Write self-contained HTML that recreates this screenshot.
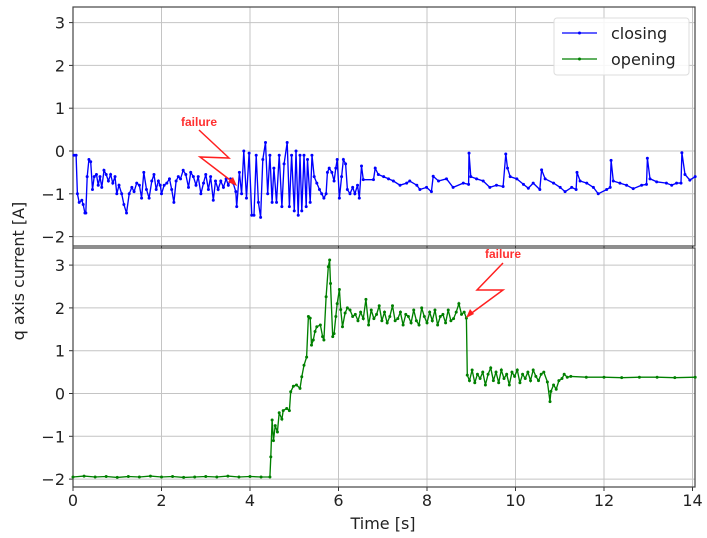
<!DOCTYPE html>
<html><head><meta charset="utf-8"><style>
body{margin:0;background:#fff;}
svg{display:block;font-family:"DejaVu Sans","Liberation Sans",sans-serif;}
</style></head><body>
<svg id="chart" width="707" height="538"></svg>
<script>
const closingT=[0.02,0.07,0.10,0.14,0.20,0.23,0.27,0.29,0.32,0.36,0.40,0.44,0.48,0.53,0.57,0.61,0.65,0.70,0.75,0.80,0.85,0.90,0.95,0.99,1.04,1.10,1.15,1.21,1.27,1.33,1.38,1.44,1.50,1.55,1.60,1.66,1.72,1.78,1.83,1.88,1.93,1.97,2.00,2.06,2.12,2.18,2.23,2.28,2.33,2.38,2.43,2.49,2.55,2.61,2.66,2.72,2.78,2.83,2.89,2.95,3.00,3.06,3.11,3.17,3.22,3.28,3.34,3.40,3.46,3.51,3.56,3.62,3.68,
3.70,3.76,3.81,3.86,3.92,3.98,4.04,4.09,4.14,4.19,4.24,4.29,4.35,4.40,4.45,4.50,4.54,4.60,4.66,4.72,4.77,4.84,4.89,4.94,5.00,5.04,5.09,5.13,5.17,5.22,5.27,5.30,5.36,5.40,5.45,5.51,5.57,5.62,5.67,5.72,5.75,5.79,5.85,5.90,5.94,5.97,6.02,6.07,6.11,6.16,6.20,6.26,6.32,6.37,6.43,6.47,6.52,6.56,6.79,6.83,6.90,7.02,7.13,7.24,7.39,7.54,7.61,7.77,7.84,7.99,8.10,8.14,8.26,8.44,8.59,
8.82,8.94,8.95,8.99,9.12,9.27,9.42,9.57,9.72,9.78,9.82,9.88,10.03,10.18,10.29,10.40,10.55,10.59,10.67,10.86,11.01,11.12,11.27,11.37,11.39,11.46,11.61,11.76,11.87,12.06,12.14,12.16,12.21,12.36,12.51,12.66,12.85,12.96,12.98,13.04,13.19,13.41,13.53,13.64,13.74,13.76,13.83,13.94,14.06];
const closingV=[-0.1,-0.1,-1.0,-1.2,-1.15,-1.25,-1.45,-1.45,-0.6,-0.2,-0.25,-0.9,-0.6,-0.55,-0.8,-0.6,-0.85,-0.45,-0.55,-0.7,-0.55,-0.75,-0.6,-1.0,-0.8,-1.0,-1.25,-1.45,-1.0,-0.85,-0.95,-0.75,-0.8,-1.1,-0.5,-0.9,-1.1,-0.7,-0.55,-0.9,-0.7,-0.8,-1.0,-0.8,-0.75,-0.65,-0.9,-1.2,-0.7,-0.6,-0.65,-0.45,-0.55,-0.85,-0.5,-0.6,-0.8,-0.6,-1.0,-0.75,-0.55,-0.9,-0.6,-1.15,-0.7,-0.9,-0.7,-0.85,-0.65,-0.8,-0.65,-0.75,-0.95,
-1.3,-0.5,-1.0,0.0,-1.1,-0.05,-1.5,-1.5,-0.1,-1.2,-1.55,-0.2,0.2,-1.0,-0.1,-1.2,-0.4,-1.2,-0.1,-1.3,-0.3,0.2,-1.3,-0.1,-1.4,0.0,-1.5,-0.1,-1.4,-0.1,-1.3,-0.2,-1.2,-0.1,-0.6,-0.75,-0.9,-1.0,-1.1,-1.0,-0.5,-0.4,-0.5,-0.7,-0.4,-0.2,-1.1,-0.6,-0.2,-0.3,-0.9,-1.0,-0.85,-1.0,-0.8,-1.1,-0.35,-0.67,-0.67,-0.4,-0.55,-0.6,-0.65,-0.7,-0.8,-0.75,-0.7,-0.8,-0.9,-0.85,-0.95,-0.59,-0.7,-0.65,-0.85,
-0.75,-0.78,-0.05,-0.6,-0.65,-0.7,-0.85,-0.8,-0.83,-0.07,-0.4,-0.6,-0.65,-0.78,-0.87,-0.75,-0.9,-0.44,-0.65,-0.75,-0.85,-0.95,-0.85,-0.9,-0.5,-0.7,-0.75,-0.85,-1.0,-0.9,-0.85,-0.22,-0.7,-0.75,-0.8,-0.88,-0.8,-0.78,-0.17,-0.65,-0.72,-0.75,-0.8,-0.75,-0.75,-0.04,-0.55,-0.68,-0.6];
const openingT=[0,0.25,0.5,0.75,1.0,1.25,1.5,1.75,2.0,2.25,2.5,2.75,3.0,3.25,3.5,3.75,4.0,4.25,4.45,
4.47,4.50,4.53,4.57,4.62,4.66,4.72,4.75,4.83,4.89,4.92,4.98,5.05,5.13,5.17,5.22,5.28,5.32,5.36,5.39,5.43,5.47,5.51,5.59,5.64,5.67,5.72,5.77,5.80,5.82,5.87,5.90,5.94,5.97,6.02,6.05,6.09,6.15,6.20,
6.26,6.32,6.38,6.44,6.50,6.56,6.62,6.68,6.74,6.80,6.86,6.92,6.98,7.04,7.10,7.16,7.22,7.28,7.34,7.40,7.46,7.52,7.58,7.64,7.70,7.76,7.82,7.88,7.94,8.00,8.06,8.12,8.18,8.24,8.30,8.36,8.42,8.48,8.54,8.60,8.66,8.72,8.78,8.84,8.89,
8.91,8.96,9.02,9.08,9.14,9.20,9.26,9.32,9.38,9.44,9.50,9.56,9.62,9.68,9.74,9.80,9.86,9.92,9.98,10.04,10.10,10.16,10.22,10.28,10.34,10.40,10.46,10.52,10.58,10.64,10.72,10.78,10.80,10.86,10.92,10.98,11.05,11.10,11.17,11.25,11.6,12.0,12.4,12.8,13.2,13.6,14.06];
const openingV=[-1.95,-1.93,-1.95,-1.94,-1.96,-1.94,-1.95,-1.93,-1.95,-1.94,-1.96,-1.95,-1.94,-1.95,-1.93,-1.95,-1.94,-1.95,-1.95,
-1.48,-0.62,-1.1,-0.75,-0.9,-0.45,-0.6,-0.4,-0.35,-0.4,0.04,0.17,0.2,0.12,0.39,0.66,0.85,1.8,1.76,1.13,1.25,1.45,1.56,1.6,1.33,1.25,2.26,2.96,3.12,2.57,1.33,1.4,1.8,2.1,2.43,1.96,1.56,1.88,2.0,
1.95,1.8,1.85,1.7,1.9,1.75,2.2,1.6,1.95,1.75,1.85,2.05,1.7,1.9,1.65,1.8,2.05,1.7,1.75,1.9,1.6,1.85,1.8,1.65,1.95,1.7,1.6,2.0,1.8,1.65,1.9,1.7,1.95,1.6,1.8,1.85,1.65,1.95,1.7,1.75,1.9,2.1,1.85,1.9,1.76,
0.43,0.3,0.55,0.25,0.45,0.35,0.5,0.2,0.45,0.6,0.3,0.5,0.25,0.55,0.35,0.45,0.2,0.5,0.4,0.55,0.25,0.45,0.35,0.5,0.3,0.55,0.4,0.3,0.45,0.5,0.27,-0.19,0.05,0.2,0.1,0.3,0.35,0.45,0.38,0.4,0.38,0.38,0.37,0.38,0.38,0.37,0.38];
const xTicks=[0,2,4,6,8,10,12,14];
const yTicksTop=[-2,-1,0,1,2,3];
const yTicksBottom=[-2,-1,0,1,2,3];

const NS='http://www.w3.org/2000/svg';
const svg=document.getElementById('chart');
const L=73,R=695,XPX=44.25;
const topP={y0:7,y1:246,zero:151},botP={y0:248,y1:487,zero:393.5};
const YPX=42.8;
const xs=t=>L+t*XPX;
const ysT=v=>topP.zero-v*YPX;
const ysB=v=>botP.zero-v*YPX;
function mk(tag,attrs,parent){const e=document.createElementNS(NS,tag);for(const k in attrs)e.setAttribute(k,attrs[k]);(parent||svg).appendChild(e);return e;}
function fmt(v){return v<0?'\u2212'+Math.abs(v):String(v);}

function panel(p,ys,ticks,name){
  const g=mk('g',{});
  
  
  xTicks.forEach(t=>{const l=mk('line',{x1:xs(t),x2:xs(t),y1:p.y0,y2:p.y1,stroke:'#c4c4c4','stroke-width':1},g);
    
    
    mk('line',{x1:xs(t),x2:xs(t),y1:p.y1,y2:p.y1+4,stroke:'#333'},g);});
  ticks.forEach(v=>{const l=mk('line',{x1:L,x2:R,y1:ys(v),y2:ys(v),stroke:'#c4c4c4','stroke-width':1},g);
    
    
    mk('line',{x1:L-4,x2:L,y1:ys(v),y2:ys(v),stroke:'#333'},g);
    const tx=mk('text',{x:L-8,y:ys(v)+6,'text-anchor':'end','font-size':16,fill:'#222'},g);tx.textContent=fmt(v);
    
    });
  const fr=mk('rect',{x:L,y:p.y0,width:R-L,height:p.y1-p.y0,fill:'none',stroke:'#444','stroke-width':1.2},g);
  
  
}
panel(topP,ysT,yTicksTop,'top');
panel(botP,ysB,yTicksBottom,'bottom');

function series(T,V,ys,color,name){
  const g=mk('g',{});
  
  
  const pts=T.map((t,i)=>xs(t).toFixed(1)+','+ys(V[i]).toFixed(1)).join(' ');
  const pl=mk('polyline',{points:pts,fill:'none',stroke:color,'stroke-width':1.35},g);
  
  
  T.forEach((t,i)=>{const c=mk('circle',{cx:xs(t),cy:ys(V[i]),r:1.5,fill:color},g);
    
    });
}
series(closingT,closingV,ysT,'#0000ff','closing');
series(openingT,openingV,ysB,'#008000','opening');

xTicks.forEach(t=>{const tx=mk('text',{x:xs(t),y:506,'text-anchor':'middle','font-size':16,fill:'#222'});tx.textContent=fmt(t);
  
  });
</script>
<svg width="707" height="538" style="position:absolute;left:0;top:0">
  <text x="383" y="529" text-anchor="middle" font-size="16" fill="#222" font-family="DejaVu Sans, Liberation Sans, sans-serif">Time [s]</text>
  <text transform="translate(24,271) rotate(-90)" text-anchor="middle" font-size="16" fill="#222" font-family="DejaVu Sans, Liberation Sans, sans-serif">q axis current [A]</text>
  <g>
    <rect x="554" y="18" width="135" height="57" rx="3" fill="#fff" fill-opacity="0.85" stroke="#ddd"/>
    <line x1="562" x2="597" y1="33" y2="33" stroke="#0000ff" stroke-width="1.2"/>
    <circle cx="579.5" cy="33" r="1.5" fill="#0000ff"/>
    <text x="611" y="39" font-size="16" fill="#222" font-family="DejaVu Sans, Liberation Sans, sans-serif">closing</text>
    <line x1="562" x2="597" y1="59" y2="59" stroke="#008000" stroke-width="1.2"/>
    <circle cx="579.5" cy="59" r="1.5" fill="#008000"/>
    <text x="611" y="65" font-size="16" fill="#222" font-family="DejaVu Sans, Liberation Sans, sans-serif">opening</text>
  </g>
  <g fill="none" stroke="#ff2020" stroke-width="1.5">
    <text x="199" y="126" text-anchor="middle" font-size="12" font-weight="bold" fill="#ff3030" stroke="none" font-family="Liberation Sans, sans-serif">failure</text>
    <polyline points="199,130 229,158 200,157 234,183"/>
    <polygon points="237,186 228,182 233,177" fill="#ff2020" stroke="none"/>
  </g>
  <g fill="none" stroke="#ff2020" stroke-width="1.5">
    <text x="503" y="258" text-anchor="middle" font-size="12" font-weight="bold" fill="#ff3030" stroke="none" font-family="Liberation Sans, sans-serif">failure</text>
    <polyline points="503,263 477,290 503,290 469,315"/>
    <polygon points="466,318 470,309 474,314" fill="#ff2020" stroke="none"/>
  </g>
</svg>
</body></html>
